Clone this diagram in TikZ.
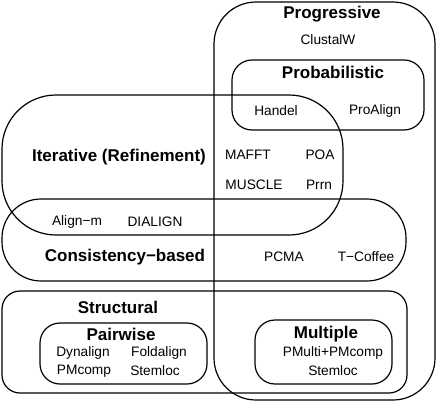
\documentclass[tikz,border=0pt]{standalone}
\usepackage{fontspec}
\setmainfont{Liberation Sans}
\usetikzlibrary{positioning}
\tikzset{
    region/.style={draw, line width=1.2pt},
    group/.style={font=\bfseries\fontsize{17}{20}\selectfont, inner sep=1pt},
    tool/.style={font=\fontsize{13.7}{16}\selectfont, inner sep=1pt}
}

\begin{document}
\begin{tikzpicture}[x=1pt, y=-1pt]
    \useasboundingbox (0,0) rectangle (437,402);

    % Regions
    \draw[region, rounded corners=42] (214,2) rectangle (435,400);  % Progressive
    \draw[region, rounded corners=20] (232,60) rectangle (424,130); % Probabilistic
    \draw[region, rounded corners=54] (2,95) rectangle (343,235);   % Iterative
    \draw[region, rounded corners=39] (2,199) rectangle (406,281);  % Consistency
    \draw[region, rounded corners=18] (2,291) rectangle (407,393);  % Structural
    \draw[region, rounded corners=20] (40,323) rectangle (207,384);  % Pairwise
    \draw[region, rounded corners=20] (255,320) rectangle (392,384); % Multiple

    % Progressive / Probabilistic
    \node[group] (prog) at (332,14) {Progressive};
    \node[tool] (clustalw) at (328,40) {ClustalW};
    \node[group] (prob) at (333,72) {Probabilistic};
    \node[tool] (handel) at (276,111) {Handel};
    \node[tool] (proalign) at (375,111) {ProAlign};

    % Iterative
    \node[group] (iter) at (119,157) {Iterative (Refinement)};
    \node[tool] (mafft) at (248,155) {MAFFT};
    \node[tool] (poa) at (320,155) {POA};
    \node[tool] (muscle) at (254,185) {MUSCLE};
    \node[tool] (prrn) at (319,185) {Prrn};

    % Consistency-based
    \node[tool] (alignm) at (77,222) {Align−m};
    \node[tool] (dialign) at (155,222) {DIALIGN};
    \node[group] (cons) at (125,257) {Consistency−based};
    \node[tool] (pcma) at (284,257) {PCMA};
    \node[tool] (tcoffee) at (366,257) {T−Coffee};

    % Structural
    \node[group] (struct) at (118,307) {Structural};
    \node[group] (pair) at (121,334) {Pairwise};
    \node[tool] (dynalign) at (83,353) {Dynalign};
    \node[tool] (foldalign) at (159,353) {Foldalign};
    \node[tool] (pmcomp) at (84,371) {PMcomp};
    \node[tool] (stemloc) at (155,371) {Stemloc};
    \node[group] (mult) at (326,334) {Multiple};
    \node[tool] (pmulti) at (333,353) {PMulti+PMcomp};
    \node[tool] (stemlocm) at (333,371) {Stemloc};

\end{tikzpicture}
\end{document}
